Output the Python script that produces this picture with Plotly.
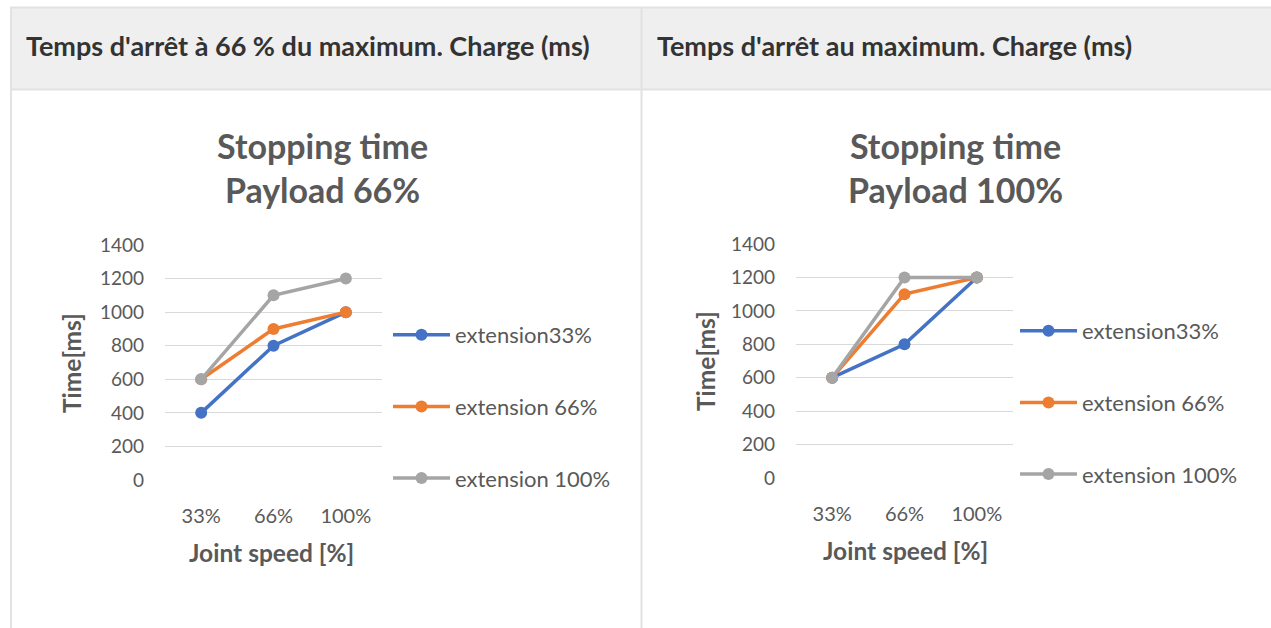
import plotly.graph_objects as go

W, H = 1271, 628

categories = ["33%", "66%", "100%"]
series_names = ["extension33%", "extension 66%", "extension 100%"]
payload66 = {
    "extension33%": [400, 800, 1000],
    "extension 66%": [600, 900, 1000],
    "extension 100%": [600, 1100, 1200],
}
payload100 = {
    "extension33%": [600, 800, 1200],
    "extension 66%": [600, 1100, 1200],
    "extension 100%": [600, 1200, 1200],
}
y_ticks = [0, 200, 400, 600, 800, 1000, 1200, 1400]
header_titles = ["Temps d'arrêt à 66 % du maximum. Charge (ms)", "Temps d'arrêt au maximum. Charge (ms)"]
chart_titles = ["Stopping time<br>Payload 66%", "Stopping time<br>Payload 100%"]
y_title = "Time[ms]"
x_title = "Joint speed [%]"

colors = ["#4472C4", "#ED7D31", "#A5A5A5"]
TXT = "#595959"
FONT = "Lato"

def px(x):
    return x / W

def py(y):
    return 1 - y / H

fig = go.Figure()

for ci, (data, xa, ya, lg) in enumerate([(payload66, "x", "y", "legend"), (payload100, "x2", "y2", "legend2")]):
    for si, name in enumerate(series_names):
        fig.add_trace(go.Scatter(
            x=categories, y=data[name], name=name, mode="lines+markers",
            line=dict(color=colors[si], width=3.5),
            marker=dict(color=colors[si], size=12),
            xaxis=xa, yaxis=ya, legend=lg, legendgroup=f"{ci}-{si}",
        ))

axis_common = dict(showline=False, zeroline=False, ticks="", automargin=False, fixedrange=True)
xfont = dict(family=FONT, size=20, color=TXT)
yfont = dict(family=FONT, size=19, color=TXT)
x_range = [-0.5, len(categories) - 0.5]

fig.update_layout(
    width=W, height=H,
    margin=dict(l=0, r=0, t=0, b=0, pad=0, autoexpand=False),
    paper_bgcolor="white", plot_bgcolor="white",
    xaxis=dict(domain=[px(165), px(382)], anchor="y", type="category", tickfont=xfont,
               range=x_range, showgrid=False, ticklabelstandoff=22, **axis_common),
    yaxis=dict(domain=[py(480), py(245)], anchor="x", range=[0, 1400], tickfont=yfont,
               tickvals=y_ticks, showgrid=True, gridcolor="#D9D9D9", gridwidth=1,
               ticklabelstandoff=20, **axis_common),
    xaxis2=dict(domain=[px(796), px(1013)], anchor="y2", type="category", tickfont=xfont,
                range=x_range, showgrid=False, ticklabelstandoff=22, **axis_common),
    yaxis2=dict(domain=[py(478), py(244)], anchor="x2", range=[0, 1400], tickfont=yfont,
                tickvals=y_ticks, showgrid=True, gridcolor="#D9D9D9", gridwidth=1,
                ticklabelstandoff=20, **axis_common),
    legend=dict(x=px(388), y=py(314), xanchor="left", yanchor="top",
                traceorder="grouped", tracegroupgap=40, itemwidth=57,
                font=dict(family=FONT, size=22, color=TXT), bgcolor="rgba(0,0,0,0)"),
    legend2=dict(x=px(1015), y=py(310), xanchor="left", yanchor="top",
                 traceorder="grouped", tracegroupgap=40, itemwidth=57,
                 font=dict(family=FONT, size=22, color=TXT), bgcolor="rgba(0,0,0,0)"),
    showlegend=True,
)

shapes = [
    dict(type="rect", xref="paper", yref="paper", x0=px(10), x1=1, y0=py(90), y1=py(7),
         fillcolor="#EFEFEF", line=dict(width=0), layer="below"),
    dict(type="line", xref="paper", yref="paper", x0=px(10), x1=1, y0=py(7.5), y1=py(7.5),
         line=dict(color="#E2E2E2", width=2), layer="below"),
    dict(type="line", xref="paper", yref="paper", x0=px(10), x1=1, y0=py(89.5), y1=py(89.5),
         line=dict(color="#E2E2E2", width=2), layer="below"),
    dict(type="line", xref="paper", yref="paper", x0=px(11), x1=px(11), y0=py(7), y1=0,
         line=dict(color="#E2E2E2", width=2), layer="below"),
    dict(type="line", xref="paper", yref="paper", x0=px(641.5), x1=px(641.5), y0=py(7), y1=0,
         line=dict(color="#E2E2E2", width=2), layer="below"),
]
fig.update_layout(shapes=shapes)

ann = []
for i, (hx, t) in enumerate(zip([24, 655], header_titles)):
    ann.append(dict(x=px(hx), y=py(46), xref="paper", yref="paper", xanchor="left", yanchor="middle",
                    text=f"<b>{t}</b>", showarrow=False,
                    font=dict(family="Lato", size=27, color="#333333")))
for cx, t in zip([322, 955], chart_titles):
    ann.append(dict(x=px(cx), y=py(167), xref="paper", yref="paper", xanchor="center", yanchor="middle",
                    text=f"<b>{t}</b>", showarrow=False,
                    font=dict(family=FONT, size=34, color=TXT)))
for yx, yc in zip([71, 705], [363, 361]):
    ann.append(dict(x=px(yx), y=py(yc), xref="paper", yref="paper", xanchor="center", yanchor="middle",
                    text=f"<b>{y_title}</b>", textangle=-90, showarrow=False,
                    font=dict(family=FONT, size=24.5, color=TXT)))
for xx, xy in zip([271, 905], [552, 550]):
    ann.append(dict(x=px(xx), y=py(xy), xref="paper", yref="paper", xanchor="center", yanchor="middle",
                    text=f"<b>{x_title}</b>", showarrow=False,
                    font=dict(family=FONT, size=24.5, color=TXT)))
fig.update_layout(annotations=ann)

fig.write_html("out.html", config={"displayModeBar": False},
               post_script="document.body.style.margin='0px';document.body.style.overflow='hidden';")
